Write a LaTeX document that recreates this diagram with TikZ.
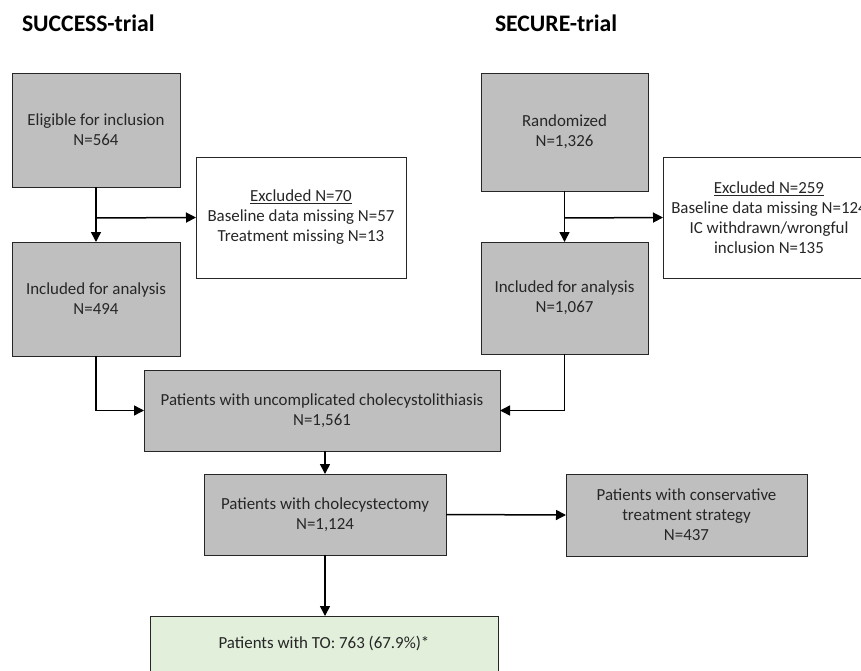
\documentclass[tikz,border=0pt]{standalone}
\usepackage{fontspec}
\setmainfont{Carlito}
\usetikzlibrary{arrows.meta}
\definecolor{boxgray}{HTML}{BFBFBF}
\definecolor{boxgreen}{HTML}{E2EFDA}
\definecolor{txt}{HTML}{262626}
\begin{document}
\begin{tikzpicture}[x=1pt,y=-1pt,
  every node/.style={inner sep=0pt, outer sep=0pt, text=txt},
  graybox/.style={draw=black!85, line width=0.9pt, fill=boxgray, align=center, font=\fontsize{16.9}{20}\selectfont},
  whitebox/.style={draw=black!85, line width=0.9pt, fill=white, align=center, font=\fontsize{16.9}{20}\selectfont},
  greenbox/.style={draw=black!85, line width=0.9pt, fill=boxgreen, align=center, font=\fontsize{16.9}{20}\selectfont},
  title/.style={anchor=base west, font=\fontsize{23.7}{27}\selectfont\bfseries, text=black},
  arr/.style={draw=black, line width=1.5pt, -{Triangle[length=10pt,width=10pt]}},
  ln/.style={draw=black, line width=1.5pt}]
\useasboundingbox (0,0) rectangle (861,671);
\begin{scope}
\clip (0,0) rectangle (861,671);
\node[title] (t1) at (22,32) {SUCCESS-trial};
\node[title] (t2) at (495,32) {SECURE-trial};

\node[graybox, minimum width=168pt, minimum height=114pt] (elig) at (96,130) {Eligible for inclusion\\N=564};
\node[whitebox, minimum width=210pt, minimum height=121pt] (exl) at (301,217.5) {\underline{Excluded N=70}\\Baseline data missing N=57\\Treatment missing N=13};
\node[graybox, minimum width=168pt, minimum height=114pt] (incl) at (96,299) {Included for analysis\\N=494};

\node[graybox, minimum width=167pt, minimum height=118pt] (rand) at (564.5,132) {Randomized\\N=1,326};
\node[whitebox, minimum width=212pt, minimum height=121pt] (exr) at (769,217.5) {\underline{Excluded N=259}\\Baseline data missing N=124\\IC withdrawn/wrongful\\inclusion N=135};
\node[graybox, minimum width=167pt, minimum height=112pt] (inr) at (564.5,298) {Included for analysis\\N=1,067};

\node[graybox, minimum width=356pt, minimum height=81pt] (sum) at (322,410.5) {Patients with uncomplicated cholecystolithiasis\\N=1,561};
\node[graybox, minimum width=242pt, minimum height=81pt] (chol) at (325,514.5) {Patients with cholecystectomy\\N=1,124};
\node[graybox, minimum width=241pt, minimum height=82pt] (cons) at (686.5,515) {Patients with conservative\\treatment strategy\\N=437};
\node[greenbox, minimum width=348pt, minimum height=56pt, anchor=north] (to) at (324,616) {};
\node[font=\fontsize{16.9}{20}\selectfont] (tot) at (324,643) {Patients with TO: 763 (67.9\%)*};

\coordinate (bl) at (96,218);
\coordinate (br) at (564.5,218);
\draw[arr] (elig) -- (incl);
\draw[arr] (bl) -- (exl.west);
\draw[arr] (rand) -- (inr);
\draw[arr] (br) -- (exr.west);
\draw[arr] (incl.south) |- (sum.west);
\draw[arr] (inr.south) |- (sum.east);
\draw[arr] (chol.north |- sum.south) -- (chol.north);
\draw[arr] (chol.east) -- (cons.west);
\draw[arr] (chol.south) -- (chol.south |- to.north);
\end{scope}
\end{tikzpicture}
\end{document}
